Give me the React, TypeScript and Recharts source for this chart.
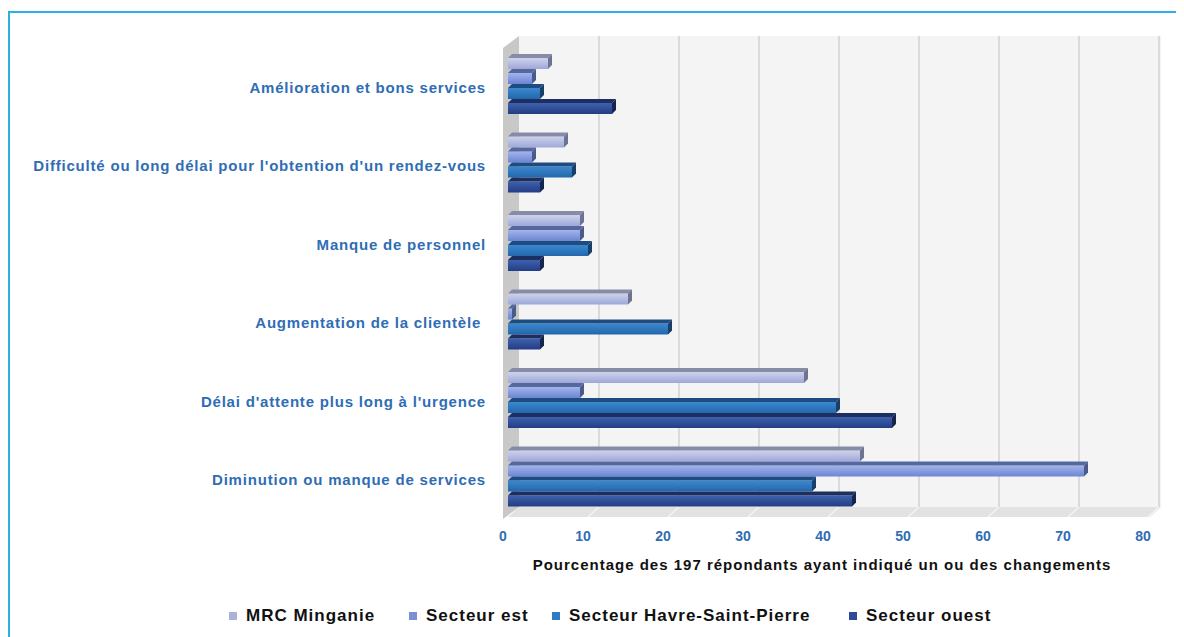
import React from "react";
import * as RC from "recharts";
import { BarChart, Bar, XAxis, YAxis } from "recharts";

const categories = [
  "Amélioration et bons services",
  "Difficulté ou long délai pour l'obtention d'un rendez-vous",
  "Manque de personnel",
  "Augmentation de la clientèle\u00a0",
  "Délai d'attente plus long à l'urgence",
  "Diminution ou manque de services",
];

const mrcMinganie = [5, 7, 9, 15, 37, 44];
const secteurEst = [3, 3, 9, 0.5, 9, 72];
const secteurHSP = [4, 8, 10, 20, 41, 38];
const secteurOuest = [13, 4, 4, 4, 48, 43];

const xTicks = [0, 10, 20, 30, 40, 50, 60, 70, 80];

const SERIES = [
  { key: "mrc", name: "MRC Minganie", values: mrcMinganie, g: ["#cdd2ec", "#9ea8d8"], top: "#868ca6", side: "#6d7390", swatch: "#aab3da" },
  { key: "est", name: "Secteur est", values: secteurEst, g: ["#a3b4ec", "#6c84d2"], top: "#55689e", side: "#4a5a8c", swatch: "#7b8fd4" },
  { key: "hsp", name: "Secteur Havre-Saint-Pierre", values: secteurHSP, g: ["#3b88cf", "#2367ac"], top: "#1d4d80", side: "#183f6a", swatch: "#2f7bc4" },
  { key: "ouest", name: "Secteur ouest", values: secteurOuest, g: ["#3f61ad", "#223d84"], top: "#1d2f60", side: "#16254d", swatch: "#2d4b9a" },
];

const data = categories.map((c, i) => {
  const row: any = { cat: c };
  SERIES.forEach((s) => (row[s.key] = s.values[i]));
  return row;
});

const FONT = "'Liberation Sans', Arial, sans-serif";
const BLUE = "#2f6db5";
const D = 4;

const makeShape = (top: string, side: string) => (props: any) => {
  const { x, y, width, height, fill } = props;
  if (!width || width <= 0) return <g />;
  const w = width;
  return (
    <g>
      <rect x={x} y={y + D} width={w} height={height - D} fill={fill} />
      <polygon points={`${x},${y + D} ${x + D},${y} ${x + w + D},${y} ${x + w},${y + D}`} fill={top} />
      <polygon points={`${x + w},${y + D} ${x + w + D},${y} ${x + w + D},${y + height - D} ${x + w},${y + height}`} fill={side} />
    </g>
  );
};

// back wall, floor and left wall of the 3D look
const Walls = () => {
  const usePlotArea = (RC as any).usePlotArea;
  const area = usePlotArea ? usePlotArea() : null;
  if (!area) return null;
  const { x, y, width, height } = area;
  const dx = 11;
  const dy = 8;
  const bottom = y + height;
  const px = (v: number) => x + (v / 80) * width;
  return (
    <g>
      <rect x={x + dx} y={y - dy} width={width + 2} height={height} fill="#f4f4f4" />
      {xTicks.slice(1).map((t) => (
        <line key={t} x1={px(t) + dx} x2={px(t) + dx} y1={y - dy} y2={bottom - dy} stroke="#dadada" strokeWidth={2} />
      ))}
      <polygon points={`${x + dx},${bottom - dy} ${x + width + dx + 2},${bottom - dy} ${x + width + 2},${bottom + 2} ${x},${bottom + 2}`} fill="#e2e2e2" />
      {xTicks.slice(1).map((t) => (
        <line key={"f" + t} x1={px(t) + dx} x2={px(t)} y1={bottom - dy} y2={bottom + 2} stroke="#f4f4f4" strokeWidth={1.5} />
      ))}
      <polygon points={`${x - 5},${y + 4} ${x + dx},${y - dy} ${x + dx},${bottom - dy} ${x - 5},${bottom + 4}`} fill="#c8c8c8" />
    </g>
  );
};

const Legend4 = () => {
  const lefts = [229, 409, 552, 849];
  return (
    <>
      {SERIES.map((s, i) => (
        <div
          key={s.key}
          style={{ position: "absolute", left: lefts[i] - 10, top: 593, display: "flex", alignItems: "center", fontFamily: FONT, fontWeight: 700, fontSize: 17, letterSpacing: 1, color: "#111", whiteSpace: "nowrap" }}
        >
          <span style={{ display: "inline-block", width: 8, height: 8, background: s.swatch, marginRight: 9 }} />
          {s.name}
        </div>
      ))}
    </>
  );
};

export default function App() {
  return (
    <div style={{ marginTop: 3, position: "relative", width: 1176, height: 626, borderTop: "2px solid #2eaee6", borderLeft: "2px solid #2eaee6", boxSizing: "border-box", background: "#fff" }}>
      <BarChart
        width={1174}
        height={624}
        data={data}
        layout="vertical"
        margin={{ top: 31, right: 36, left: 0, bottom: 60 }}
        barCategoryGap={10}
        barGap={0}
      >
        <defs>
          {SERIES.map((s) => (
            <linearGradient key={s.key} id={"grad-" + s.key} x1="0" y1="0" x2="0" y2="1">
              <stop offset="0%" stopColor={s.g[0]} />
              <stop offset="100%" stopColor={s.g[1]} />
            </linearGradient>
          ))}
        </defs>
        <Walls />
        <XAxis
          type="number"
          domain={[0, 80]}
          ticks={xTicks}
          height={62}
          axisLine={false}
          tickLine={false}
          tickSize={0}
          tickMargin={16}
          tick={{ fill: BLUE, fontFamily: FONT, fontWeight: 700, fontSize: 14, dx: -5 }}
          label={{
            value: "Pourcentage des 197 répondants ayant indiqué un ou des changements",
            position: "insideBottom",
            offset: 7,
            dx: -6,
            style: { fill: "#111", fontFamily: FONT, fontWeight: 700, fontSize: 15, letterSpacing: 1 },
          }}
        />
        <YAxis
          type="category"
          dataKey="cat"
          width={498}
          axisLine={false}
          tickLine={false}
          tickSize={0}
          tickMargin={22}
          interval={0}
          tick={{ fill: BLUE, fontFamily: FONT, fontWeight: 700, fontSize: 15, letterSpacing: 0.8, dy: 4 }}
        />
        {SERIES.map((s) => (
          <Bar
            key={s.key}
            dataKey={s.key}
            name={s.name}
            fill={`url(#grad-${s.key})`}
            shape={makeShape(s.top, s.side)}
            isAnimationActive={false}
          />
        ))}
      </BarChart>
      <Legend4 />
    </div>
  );
}
